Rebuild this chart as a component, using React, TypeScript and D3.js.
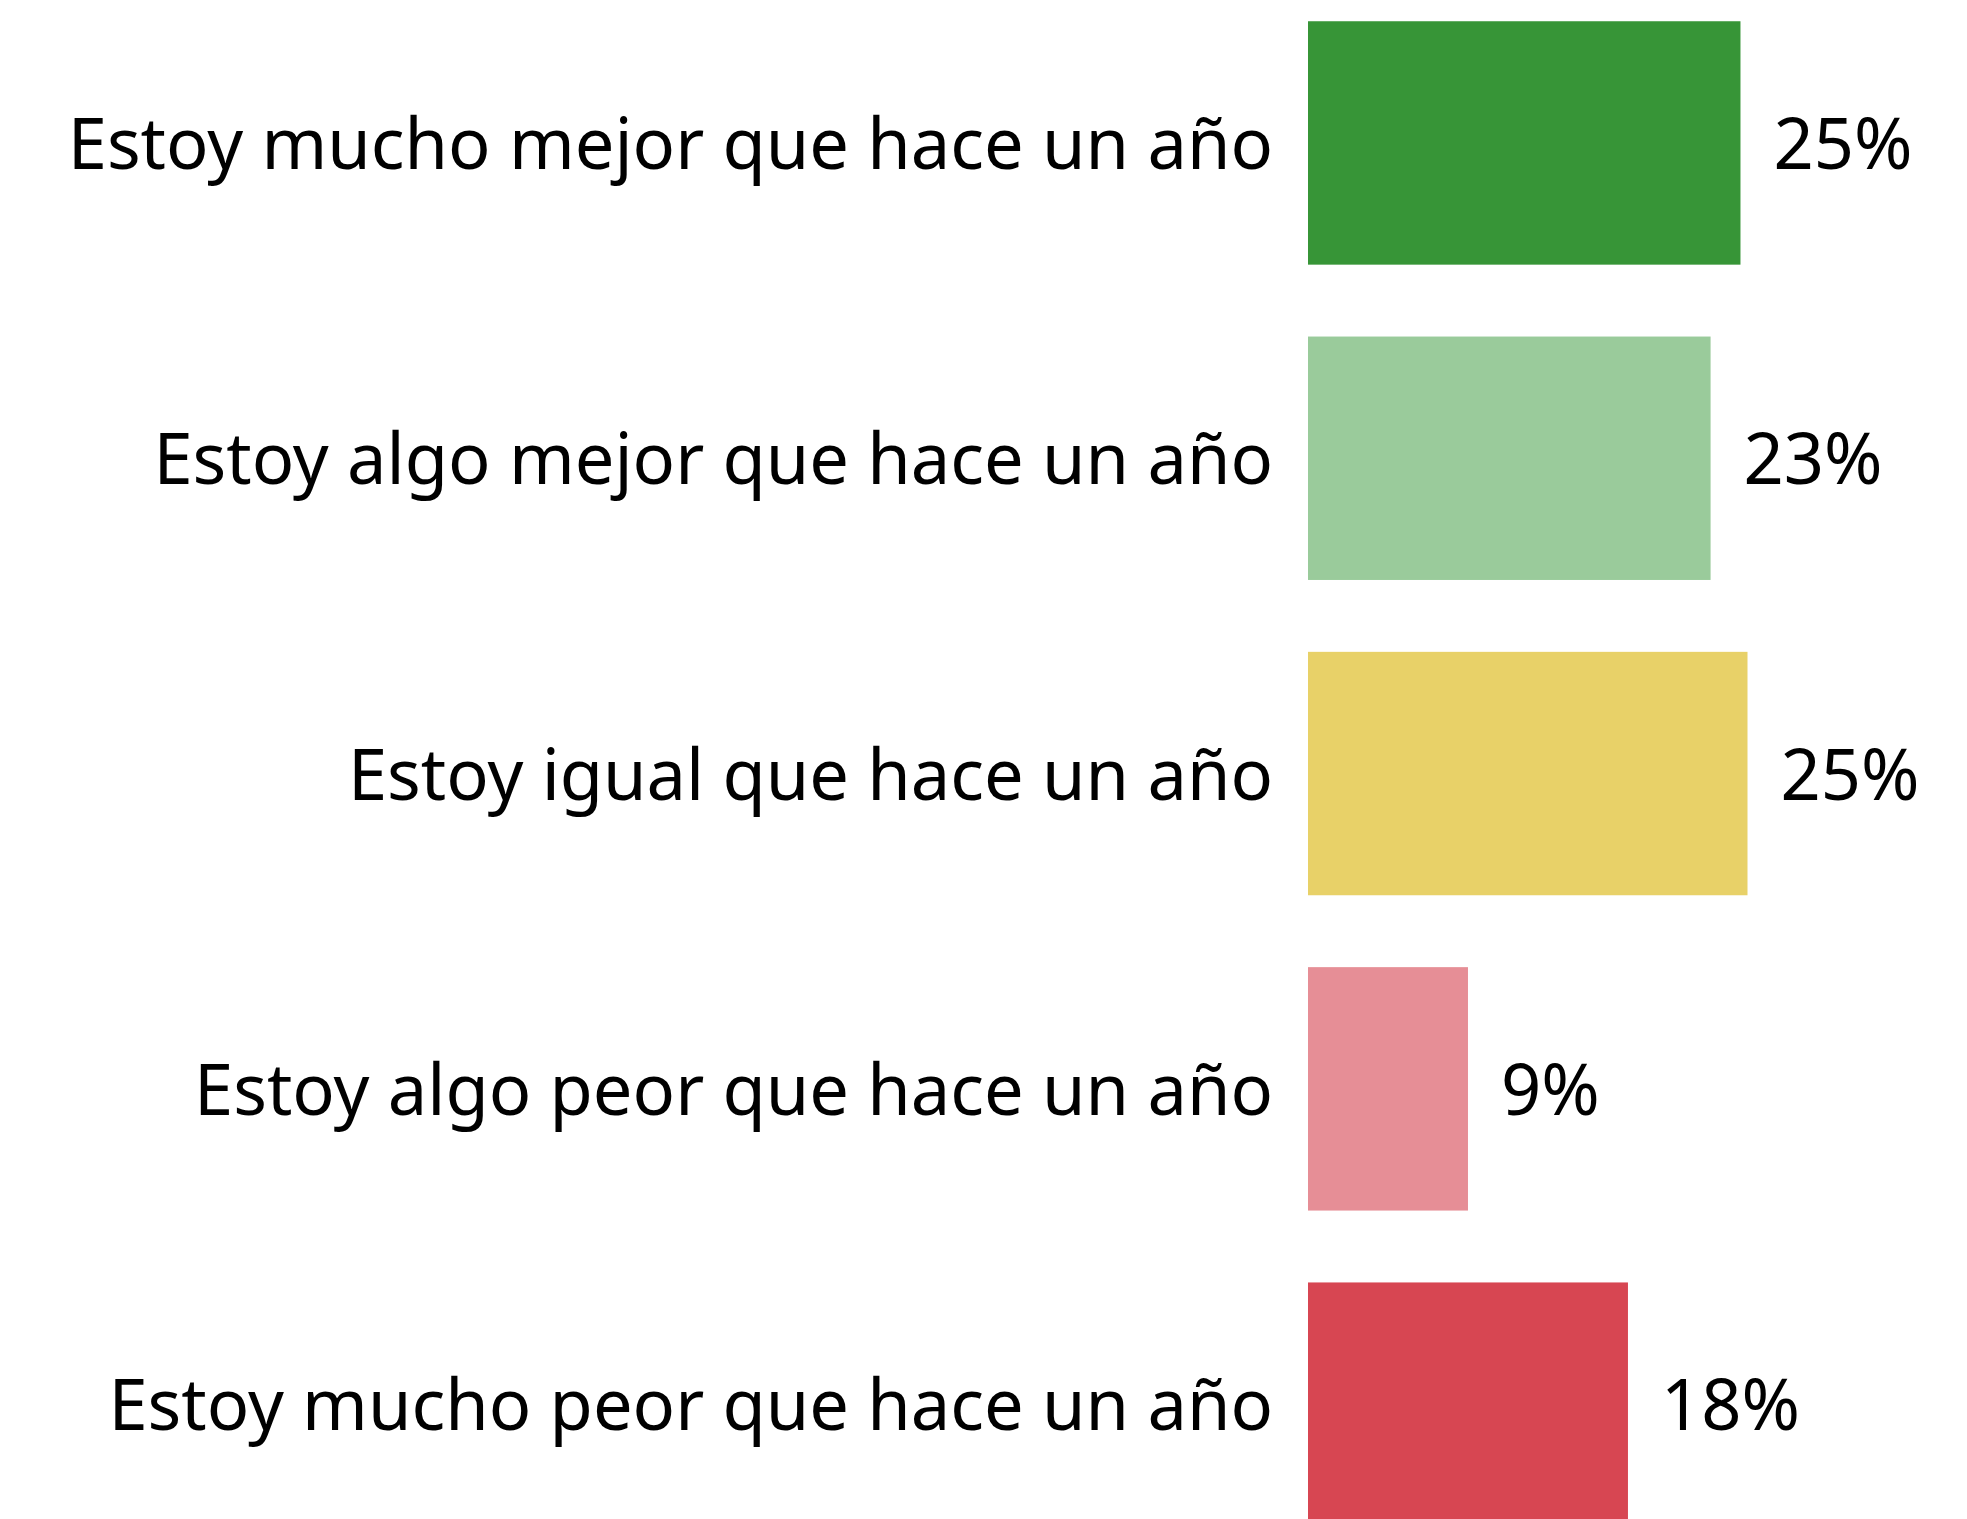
import React from 'react';
import * as d3 from 'd3';

const categories = [
  'Estoy mucho mejor que hace un año',
  'Estoy algo mejor que hace un año',
  'Estoy igual que hace un año',
  'Estoy algo peor que hace un año',
  'Estoy mucho peor que hace un año',
];
const values = [24.6, 22.9, 25.0, 9.1, 18.2];
const colors = ['#379537', '#9acb9b', '#e8d168', '#e68e96', '#d74652'];

const W = 1967;
const H = 1519;
const FONT = '"Segoe UI", "Noto Sans", "Open Sans", sans-serif';

export default function App() {
  const x = d3.scaleLinear().domain([0, 30]).range([1308, 1835.4]);
  const y = d3
    .scaleBand<string>()
    .domain(categories)
    .range([-14.7, 1561.8])
    .paddingInner(0.228)
    .paddingOuter(0.114);

  return (
    <div style={{ position: 'absolute', left: 0, top: 0, background: '#fff' }}>
      <svg width={W} height={H} style={{ display: 'block' }}>
        <rect width={W} height={H} fill="#fff" />
        {categories.map((c, i) => {
          const yc = (y(c) ?? 0) + y.bandwidth() / 2;
          return (
            <g key={c}>
              <rect
                x={x(0)}
                y={y(c)}
                width={x(values[i]) - x(0)}
                height={y.bandwidth()}
                fill={colors[i]}
              />
              <text
                x={x(0) - 35}
                y={yc}
                dy="0.37em"
                textAnchor="end"
                fontFamily={FONT}
                fontSize={70.4}
                fill="#000"
              >
                {c}
              </text>
              <text
                x={x(values[i]) + 33}
                y={yc}
                dy="0.37em"
                fontFamily={FONT}
                fontSize={70.4}
                fill="#000"
              >
                {d3.format('.0f')(values[i])}%
              </text>
            </g>
          );
        })}
      </svg>
    </div>
  );
}
